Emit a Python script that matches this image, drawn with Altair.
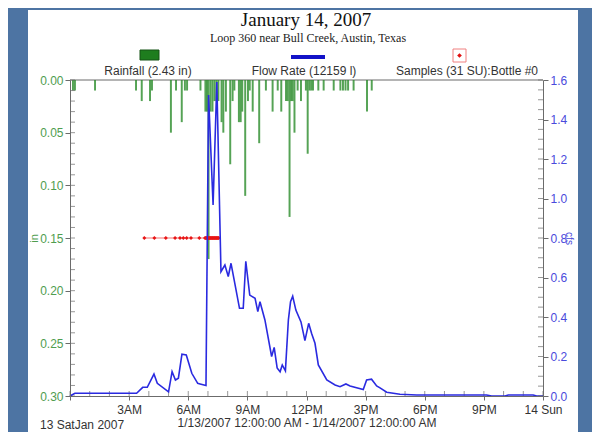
import altair as alt
import pandas as pd

# ---------------- data ----------------
title_text = "January 14, 2007"
subtitle_text = "Loop 360 near Bull Creek, Austin, Texas"
legend_labels = ["Rainfall (2.43 in)", "Flow Rate (12159 l)", "Samples (31 SU):Bottle #0"]
x_title = "1/13/2007 12:00:00 AM - 1/14/2007 12:00:00 AM"
x_start_label = "13 SatJan 2007"
x_tick_values = [0, 3, 6, 9, 12, 15, 18, 21, 24]
x_tick_labels = ["", "3AM", "6AM", "9AM", "12PM", "3PM", "6PM", "9PM", "14 Sun"]
left_tick_values = [0.0, 0.05, 0.10, 0.15, 0.20, 0.25, 0.30]
right_tick_values = [0.0, 0.2, 0.4, 0.6, 0.8, 1.0, 1.2, 1.4, 1.6]

# hours since 1/13/2007 00:00
rain_hours = [0.10, 0.20, 1.22, 3.30, 3.59, 4.01, 4.11, 5.07, 5.33, 5.62, 5.78, 5.89,
              6.57, 6.82, 6.90, 6.98, 7.08, 7.18, 7.28, 7.38, 7.48, 7.64, 7.73, 7.86,
              8.08, 8.20, 8.29, 8.52, 8.61, 8.69, 8.84, 8.98, 9.07, 9.22, 9.55, 9.89,
              10.23, 10.49, 10.67, 10.91, 11.00, 11.09, 11.17, 11.25, 11.34, 11.50, 11.67,
              11.92, 12.01, 12.10, 12.19, 12.28, 12.55, 12.82, 13.33, 13.67, 13.80, 13.93,
              14.06, 14.34, 15.02, 15.26]
rain_inches = [0.01, 0.01, 0.01, 0.01, 0.02, 0.02, 0.01, 0.05, 0.01, 0.04, 0.01, 0.01,
               0.01, 0.03, 0.03, 0.17, 0.03, 0.03, 0.02, 0.02, 0.02, 0.04, 0.05, 0.03,
               0.08, 0.02, 0.01, 0.04, 0.04, 0.03, 0.11, 0.02, 0.01, 0.03, 0.06, 0.01,
               0.03, 0.01, 0.03, 0.02, 0.02, 0.13, 0.02, 0.02, 0.05, 0.01, 0.02,
               0.01, 0.07, 0.01, 0.01, 0.01, 0.01, 0.01, 0.01, 0.01, 0.01, 0.01,
               0.01, 0.01, 0.03, 0.01]

flow_hours = [0.00, 0.25, 1.52, 3.38, 3.69, 3.92, 4.26, 4.43, 5.00, 5.18, 5.35, 5.50,
              5.68, 5.90, 6.18, 6.48, 6.60, 6.90, 7.03, 7.26, 7.45, 7.66, 7.86, 8.03,
              8.17, 8.35, 8.60, 8.79, 8.92, 9.12, 9.39, 9.53, 9.64, 9.89, 10.23, 10.36,
              10.51, 10.66, 10.77, 10.93, 11.08, 11.19, 11.30, 11.46, 11.72, 11.92, 12.11,
              12.26, 12.43, 12.60, 13.03, 13.45, 13.70, 14.00, 14.21, 14.88, 15.05, 15.30,
              15.56, 15.73, 16.07, 16.74, 17.59, 18.42, 21.14, 21.39, 22.07, 22.24, 23.50,
              23.68, 24.00]
flow_cfs = [0.000, 0.014, 0.014, 0.014, 0.044, 0.044, 0.111, 0.064, 0.021, 0.123, 0.081, 0.090,
            0.212, 0.208, 0.115, 0.064, 0.061, 0.053, 1.524, 0.967, 1.590, 0.629, 0.663, 0.605,
            0.672, 0.577, 0.444, 0.444, 0.682, 0.511, 0.495, 0.427, 0.477, 0.385, 0.200, 0.246,
            0.142, 0.123, 0.157, 0.127, 0.385, 0.477, 0.505, 0.435, 0.375, 0.280, 0.368,
            0.317, 0.267, 0.157, 0.081, 0.056, 0.047, 0.061, 0.051, 0.033, 0.081, 0.085,
            0.051, 0.041, 0.019, 0.009, 0.005, 0.005, 0.005, 0.000, 0.000, 0.005, 0.005,
            0.000, 0.000]

sample_hours = [3.77, 4.28, 4.86, 5.33, 5.58, 5.75, 5.92, 6.14, 6.56,
                6.85, 6.88, 6.92, 6.95, 6.98, 7.02, 7.05, 7.08, 7.12, 7.15, 7.18,
                7.22, 7.25, 7.28, 7.32, 7.35, 7.38, 7.42, 7.45, 7.48, 7.52, 7.55]
sample_level = 0.15

# ---------------- styling ----------------
W, H = 473, 316
GREEN_LBL = "#4f9d4f"
BLUE_LBL = "#4a4adc"
AXIS_GRAY = "#6b6b6b"
TXT = "#333333"
SANS = "Liberation Sans"
SERIF = "Liberation Serif"

rain_df = pd.DataFrame({"hour": rain_hours, "rain": rain_inches})
rain_df["hour_end"] = rain_df["hour"] + 0.1
rain_df["zero"] = 0.0
flow_df = pd.DataFrame({"hour": flow_hours, "flow": flow_cfs})
sample_df = pd.DataFrame({"hour": sample_hours, "level": [sample_level] * len(sample_hours)})

label_expr = "[" + ",".join("'" + s + "'" for s in x_tick_labels) + "][round(datum.value/3)]"

x_scale = alt.Scale(domain=[0, 24], nice=False, zero=False)
x_axis = alt.Axis(values=x_tick_values, labelExpr=label_expr, title=x_title,
                  labelFont=SANS, labelFontSize=12, labelColor=TXT, labelPadding=4,
                  titleFont=SANS, titleFontSize=12, titleFontWeight="normal", titleColor=TXT,
                  titlePadding=2, tickSize=4, tickColor=AXIS_GRAY, domainColor=AXIS_GRAY,
                  grid=False, zindex=1, labelFlush=False)

left_scale = alt.Scale(domain=[0, 0.30], reverse=True, nice=False, zero=False)
left_axis = alt.Axis(orient="left", values=left_tick_values, format=".2f", title="in",
                     titleX=-36, titleY=H / 2, titleAngle=-90, titleAlign="center",
                     titleBaseline="middle", titleColor=GREEN_LBL, titleFont=SANS,
                     titleFontSize=11, titleFontWeight="normal",
                     labelFont=SANS, labelFontSize=12, labelColor=GREEN_LBL, labelPadding=2,
                     tickSize=5, tickColor=AXIS_GRAY, domainColor=AXIS_GRAY, grid=False,
                     zindex=1)

right_scale = alt.Scale(domain=[0, 1.6], nice=False, zero=False)
right_axis = alt.Axis(orient="right", values=right_tick_values, format=".1f", title="cfs",
                      titleX=25, titleY=H / 2, titleAngle=90, titleAlign="center",
                      titleBaseline="middle", titleColor=BLUE_LBL, titleFont=SANS,
                      titleFontSize=10, titleFontWeight="normal",
                      labelFont=SANS, labelFontSize=12, labelColor=BLUE_LBL, labelPadding=2,
                      tickSize=5, tickColor=AXIS_GRAY, domainColor=AXIS_GRAY, grid=False,
                      zindex=1)

one = pd.DataFrame({"a": [0]})

# white panel behind the chart
panel = alt.Chart(one).mark_rect(color="white").encode(
    x=alt.value(-42), x2=alt.value(508), y=alt.value(-70), y2=alt.value(360))

top_border = alt.Chart(one).mark_rule(color=AXIS_GRAY, strokeWidth=1).encode(
    x=alt.value(0), x2=alt.value(W), y=alt.value(0))

# ---- left-scale group ----
rain = alt.Chart(rain_df).mark_rect(color="#2a8c2a", opacity=0.8).encode(
    x=alt.X("hour:Q", scale=x_scale, axis=x_axis),
    x2="hour_end:Q",
    y=alt.Y("rain:Q", scale=left_scale, axis=left_axis),
    y2="zero:Q")

left_minor = alt.Chart(pd.DataFrame({"v": [i / 100 for i in range(31)]})).mark_tick(
    orient="horizontal", size=5, thickness=1, color=AXIS_GRAY).encode(
    x=alt.value(2.5), y=alt.Y("v:Q", scale=left_scale, axis=left_axis))

x_minor = alt.Chart(pd.DataFrame({"hour": list(range(25))})).mark_tick(
    orient="vertical", size=5, thickness=1, color=AXIS_GRAY).encode(
    x=alt.X("hour:Q", scale=x_scale, axis=x_axis), y=alt.value(H - 2.5))

sample_line = alt.Chart(sample_df).mark_line(color="#ee3333", strokeWidth=0.7).encode(
    x=alt.X("hour:Q", scale=x_scale, axis=x_axis),
    y=alt.Y("level:Q", scale=left_scale, axis=left_axis))
sample_pts = alt.Chart(sample_df).mark_point(shape="diamond", filled=True, size=16,
                                             color="#e81515", opacity=1).encode(
    x=alt.X("hour:Q", scale=x_scale, axis=x_axis),
    y=alt.Y("level:Q", scale=left_scale, axis=left_axis))

# ---- right-scale group ----
flow = alt.Chart(flow_df).mark_line(color="#2a2ae0", strokeWidth=1.6).encode(
    x=alt.X("hour:Q", scale=x_scale, axis=x_axis),
    y=alt.Y("flow:Q", scale=right_scale, axis=right_axis))

right_minor = alt.Chart(pd.DataFrame({"v": [i * 0.05 for i in range(33)]})).mark_tick(
    orient="horizontal", size=5, thickness=1, color=AXIS_GRAY).encode(
    x=alt.value(W - 2.5), y=alt.Y("v:Q", scale=right_scale, axis=right_axis))

left_group = alt.layer(rain, left_minor, x_minor, sample_line, sample_pts)
right_group = alt.layer(flow, right_minor)

# ---- titles, legend, extra text ----
def text(s, x, y, size=12, font=SANS, color=TXT, align="center"):
    return alt.Chart(pd.DataFrame({"t": [s]})).mark_text(
        font=font, fontSize=size, color=color, align=align, baseline="middle").encode(
        text="t:N", x=alt.value(x), y=alt.value(y))

t_title = text(title_text, 236, -60, size=19, font=SERIF, color="#111111")
t_sub = text(subtitle_text, 238, -42, size=12, font=SERIF, color="#222222")
t_l1 = text(legend_labels[0], 78, -9)
t_l2 = text(legend_labels[1], 234, -9)
t_l3 = text(legend_labels[2], 397, -9)
t_start = text(x_start_label, -30, 345, align="left")

sw_green = alt.Chart(one).mark_rect(color="#1e7d1e", stroke="#145214", strokeWidth=1).encode(
    x=alt.value(70), x2=alt.value(89), y=alt.value(-30), y2=alt.value(-20))
sw_blue = alt.Chart(one).mark_rect(color="#1212c8").encode(
    x=alt.value(221), x2=alt.value(255), y=alt.value(-25), y2=alt.value(-21))
sw_box = alt.Chart(one).mark_rect(fill="white", stroke="#f08080", strokeWidth=1).encode(
    x=alt.value(383), x2=alt.value(396), y=alt.value(-31), y2=alt.value(-18))
sw_dia = alt.Chart(one).mark_point(shape="diamond", filled=True, size=22,
                                   color="#e01010", opacity=1).encode(
    x=alt.value(389.5), y=alt.value(-24.5))

chart = alt.layer(
    panel, top_border, left_group, right_group,
    t_title, t_sub, t_l1, t_l2, t_l3, t_start, sw_green, sw_blue, sw_box, sw_dia
).resolve_scale(y="independent").properties(
    width=W, height=H,
    autosize=alt.AutoSizeParams(type="none"),
    padding={"left": 62, "top": 72, "right": 49, "bottom": 36},
    background="#4d74a3",
).configure_view(stroke=None)

chart.save("out.html", embed_options={"renderer": "svg", "actions": False})
